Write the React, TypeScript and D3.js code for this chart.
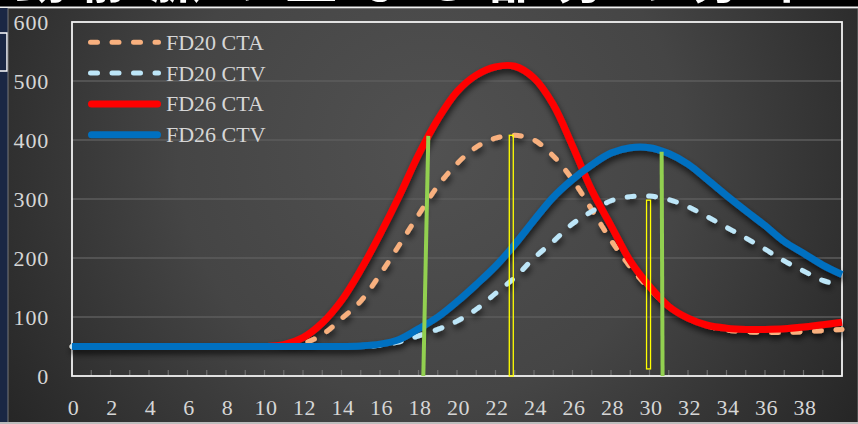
import React from 'react';
import * as d3 from 'd3';

const days = [0,1,2,3,4,5,6,7,8,9,10,11,12,13,14,15,16,17,18,19,20,21,22,23,24,25,26,27,28,29,30,31,32,33,34,35,36,37,38,39,40];
const xTickLabels = [0,2,4,6,8,10,12,14,16,18,20,22,24,26,28,30,32,34,36,38];
const yTicks = [0,100,200,300,400,500,600];

const fd20CTA = [50,50,50,50,50,50,50,50,50,50,50,50,55,70,97,127,172,222,273,322,360,388,403,408,400,373,333,282,230,185,148,118,98,85,78,75,74,74,75,77,79];
const fd20CTV = [50,50,50,50,50,50,50,50,50,50,50,50,50,50,50,50,52,58,68,79,93,113,140,167,200,228,258,279,297,304,305,299,287,270,252,234,215,195,178,162,153];
const fd26CTA = [50,50,50,50,50,50,50,50,50,50,50,53,65,90,128,180,240,305,375,435,482,510,524,525,505,460,390,315,255,195,152,118,98,86,81,79,79,80,83,87,91];
const fd26CTV = [50,50,50,50,50,50,50,50,50,50,50,50,50,50,50,51,54,62,80,100,126,155,186,223,264,303,333,358,378,387,387,377,359,333,306,280,255,228,208,188,172];

const seriesNames = ['FD20 CTA', 'FD20 CTV', 'FD26 CTA', 'FD26 CTV'];

// annotation markers (day position, value)
const greenMarkers = [
  { xTop: 18.51, xBottom: 18.25, top: 407, bottom: 0 },
  { xTop: 30.63, xBottom: 30.68, top: 380, bottom: 0 },
];
const yellowMarkers = [
  { x: 22.82, top: 408, bottom: 0 },
  { x: 29.95, top: 298, bottom: 12 },
];

const titleText = '動静脈の重なる部分の分布';

export default function App() {
  const x = d3.scaleLinear().domain([0, 40]).range([72, 842]);
  const y = d3.scaleLinear().domain([0, 600]).range([376, 22]);
  const line = d3.line<number>()
    .x((_, i) => x(days[i]))
    .y((d) => y(d))
    .curve(d3.curveCatmullRom.alpha(0.5));

  const series = [
    { name: seriesNames[0], data: fd20CTA, color: '#F8B07E', width: 5, dash: '7 14.5' },
    { name: seriesNames[1], data: fd20CTV, color: '#BDE6F8', width: 5, dash: '7 14.5' },
    { name: seriesNames[2], data: fd26CTA, color: '#FF0000', width: 7, dash: null },
    { name: seriesNames[3], data: fd26CTV, color: '#0070C0', width: 7, dash: null },
  ];

  const font = '"Liberation Serif", "DejaVu Serif", serif';
  const textColor = '#d6d6d6';

  return (
    <svg width={858} height={424} style={{ position: 'absolute', left: 0, top: 0, display: 'block' }}>
      <defs>
        <radialGradient id="bg" cx="430" cy="150" r="560" gradientUnits="userSpaceOnUse">
          <stop offset="0" stopColor="#515151" />
          <stop offset="0.45" stopColor="#454545" />
          <stop offset="1" stopColor="#1f1f1f" />
        </radialGradient>
        <filter id="shadow" x="-10%" y="-10%" width="120%" height="130%">
          <feDropShadow dx="1" dy="4" stdDeviation="3" floodColor="#000" floodOpacity="0.7" />
        </filter>
        <clipPath id="titleClip" clipPathUnits="userSpaceOnUse">
          <rect x={0} y={0} width={858} height={6.5} />
        </clipPath>
      </defs>

      <rect x={0} y={0} width={858} height={424} fill="#000" />
      <g clipPath="url(#titleClip)">
        <text x={15} y={-2} fontSize={52} fill="#fff" textLength={795} lengthAdjust="spacing"
          fontFamily='"Noto Sans CJK JP", sans-serif' fontWeight={700}>{titleText}</text>
      </g>
      <rect x={0} y={6.5} width={858} height={1.6} fill="#f0f0f0" />

      {/* left strip */}
      <rect x={0} y={8} width={8} height={416} fill="#1a2744" />
      <rect x={-2} y={33} width={9} height={38} fill="none" stroke="#fff" strokeWidth={1.5} />

      {/* chart panel */}
      <rect x={8} y={8.5} width={850} height={414} fill="url(#bg)" stroke="#8a8a8a" strokeWidth={0.8} />
      <rect x={0} y={422} width={858} height={2} fill="#bdbdbd" />

      {/* gridlines */}
      {yTicks.filter((t) => t > 0 && t < 600).map((t) => (
        <line key={t} x1={x(0)} x2={x(40)} y1={y(t)} y2={y(t)} stroke="#5d5d5d" strokeWidth={1.4} />
      ))}

      {/* minor tick marks */}
      {days.map((d) => (
        <line key={d} x1={x(d)} x2={x(d)} y1={y(0) - 6} y2={y(0)} stroke="#6f6f6f" strokeWidth={1.2} />
      ))}

      {/* plot border */}
      <rect x={x(0)} y={y(600)} width={x(40) - x(0)} height={y(0) - y(600)} fill="none" stroke="#f2f2f2" strokeWidth={1.8} />

      {/* series */}
      <g filter="url(#shadow)">
        {series.map((s) => (
          <path key={s.name} d={line(s.data) || ''} fill="none" stroke={s.color} strokeWidth={s.width}
            strokeDasharray={s.dash || undefined} strokeLinecap={s.dash ? 'round' : 'butt'} strokeLinejoin="round" />
        ))}
      </g>

      {/* legend */}
      {series.map((s, i) => {
        const ly = 42.3 + i * 30.8;
        return (
          <g key={s.name}>
            <line x1={s.dash ? 90.5 : 91.5} x2={s.dash ? 158.5 : 157.5} y1={ly} y2={ly} stroke={s.color}
              strokeWidth={s.width} strokeDasharray={s.dash || undefined} strokeLinecap="round" />
            <text x={166} y={ly + 7.5} fontSize={22} fill={textColor} fontFamily={font}>{s.name}</text>
          </g>
        );
      })}

      {/* y axis labels */}
      {yTicks.map((t) => (
        <text key={t} x={49} y={y(t) + 7.5} fontSize={22} fill={textColor} fontFamily={font} textAnchor="end" letterSpacing={0.8}>{t}</text>
      ))}

      {/* x axis labels */}
      {xTickLabels.map((t) => (
        <text key={t} x={x(t) + 1.5} y={415} fontSize={22} fill={textColor} fontFamily={font} textAnchor="middle" letterSpacing={0.6}>{t}</text>
      ))}

      {/* annotation markers */}
      {greenMarkers.map((g, i) => (
        <line key={'g' + i} x1={x(g.xTop)} y1={y(g.top)} x2={x(g.xBottom)} y2={y(g.bottom)} stroke="#92D050" strokeWidth={4} />
      ))}
      {yellowMarkers.map((m, i) => (
        <rect key={'y' + i} x={x(m.x) - 2} y={y(m.top)} width={4} height={y(m.bottom) - y(m.top)} fill="none" stroke="#FFFF00" strokeWidth={1.3} />
      ))}
    </svg>
  );
}
